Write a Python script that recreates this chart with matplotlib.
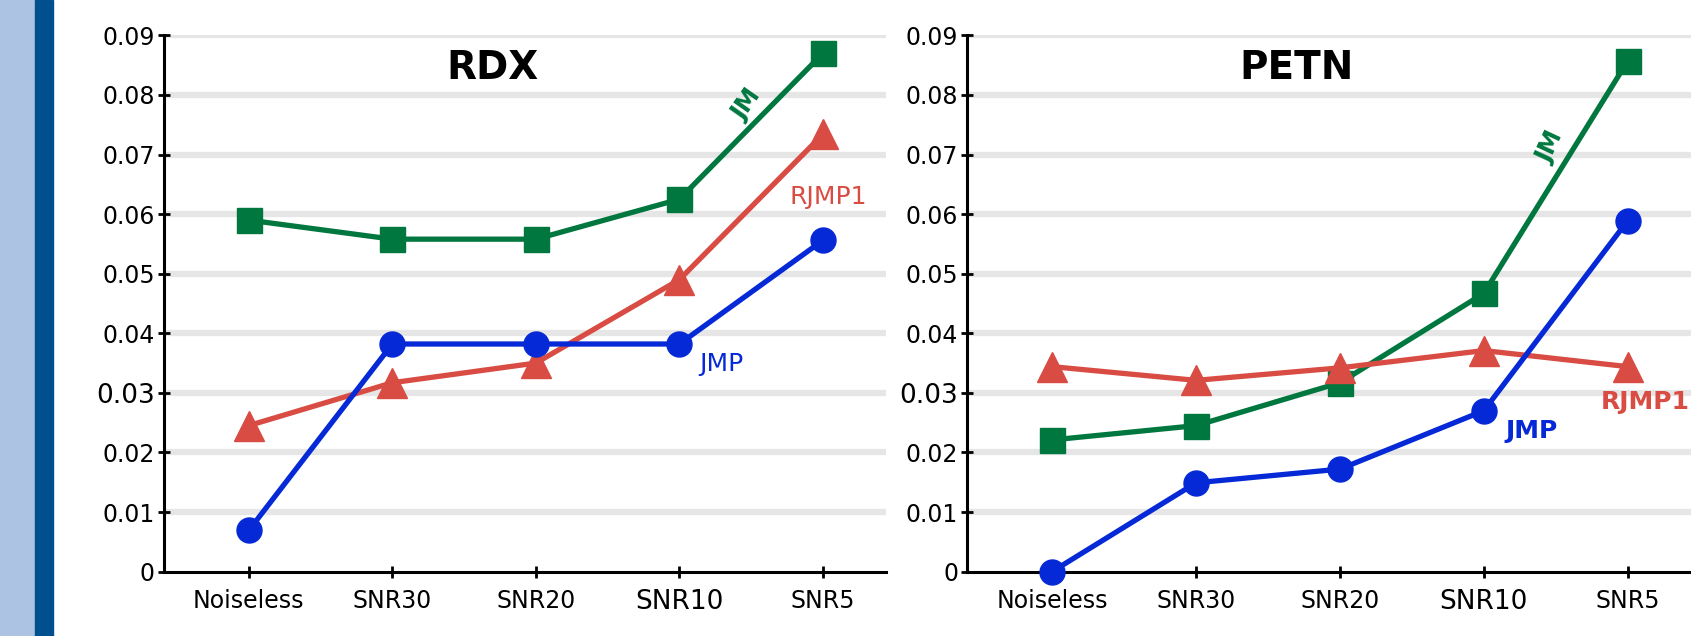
import matplotlib
matplotlib.use('Agg')
import matplotlib.pyplot as plt
from matplotlib.patches import Rectangle

categories = ['Noiseless', 'SNR30', 'SNR20', 'SNR10', 'SNR5']
yticks = [0, 0.01, 0.02, 0.03, 0.04, 0.05, 0.06, 0.07, 0.08, 0.09]
ytick_labels = ['0', '0.01', '0.02', '0.03', '0.04', '0.05', '0.06', '0.07', '0.08', '0.09']

rdx_jm = [0.059, 0.0558, 0.0558, 0.0625, 0.087]
rdx_rjmp1 = [0.0245, 0.0317, 0.035, 0.049, 0.0734]
rdx_jmp = [0.0069, 0.0382, 0.0382, 0.0382, 0.0556]

petn_jm = [0.0221, 0.0245, 0.0317, 0.0467, 0.0857]
petn_rjmp1 = [0.0344, 0.0321, 0.0342, 0.0371, 0.0344]
petn_jmp = [0.0, 0.0149, 0.0172, 0.027, 0.0589]

green = '#00773f'
red = '#d94c43'
blue = '#0529d6'

fig = plt.figure(figsize=(16.91, 6.36), dpi=100)
# left side band
fig.patches.append(Rectangle((0, 0), 35 / 1691, 1, transform=fig.transFigure, color='#adc3e4', zorder=0))
fig.patches.append(Rectangle((35 / 1691, 0), 18 / 1691, 1, transform=fig.transFigure, color='#00508f', zorder=0))

ax1 = fig.add_axes([0.097, 0.1013, 0.427, 0.843])
ax2 = fig.add_axes([0.572, 0.1013, 0.428, 0.843])

x = range(len(categories))


def setup(ax, title):
    ax.set_xlim(-0.59, 4.44)
    ax.set_ylim(0, 0.09)
    for yv in yticks[1:]:
        ax.axhline(yv, color='#e6e6e6', lw=4.5, zorder=0)
    ax.set_yticks(yticks)
    ax.set_yticklabels(ytick_labels)
    ax.set_xticks(list(x))
    ax.set_xticklabels(categories)
    for s in ['top', 'right']:
        ax.spines[s].set_visible(False)
    for s in ['left', 'bottom']:
        ax.spines[s].set_linewidth(2.2)
    ax.tick_params(direction='inout', length=9, width=2, labelsize=17)
    ax.tick_params(axis='y', pad=2)
    ax.tick_params(axis='x', pad=8)
    ax.get_yticklabels()[3].set_fontsize(19)
    ax.get_xticklabels()[3].set_fontsize(19)
    ax.text(0.455, 0.94, title, transform=ax.transAxes, ha='center', va='center',
            fontsize=28, fontweight='bold')


def draw(ax, jm, rjmp1, jmp):
    ax.plot(x, jm, color=green, lw=3.8, marker='s', ms=18, clip_on=False, zorder=3)
    ax.plot(x, rjmp1, color=red, lw=3.8, marker='^', ms=22, clip_on=False, zorder=3)
    ax.plot(x, jmp, color=blue, lw=3.8, marker='o', ms=18, clip_on=False, zorder=4)


setup(ax1, 'RDX')
draw(ax1, rdx_jm, rdx_rjmp1, rdx_jmp)
ax1.text(3.47, 0.0783, 'JM', color=green, fontsize=17, fontweight='bold', rotation=55,
         ha='center', va='center')
ax1.text(4.04, 0.0629, 'RJMP1', color=red, fontsize=18, ha='center', va='center')
ax1.text(3.29, 0.0348, 'JMP', color=blue, fontsize=18, ha='center', va='center')

setup(ax2, 'PETN')
draw(ax2, petn_jm, petn_rjmp1, petn_jmp)
ax2.text(3.46, 0.0712, 'JM', color=green, fontsize=17, fontweight='bold', rotation=65,
         ha='center', va='center')
ax2.text(4.12, 0.0284, 'RJMP1', color=red, fontsize=18, fontweight='bold', ha='center', va='center')
ax2.text(3.33, 0.0236, 'JMP', color=blue, fontsize=18, fontweight='bold', ha='center', va='center')

fig.savefig('out.png', dpi=100)
